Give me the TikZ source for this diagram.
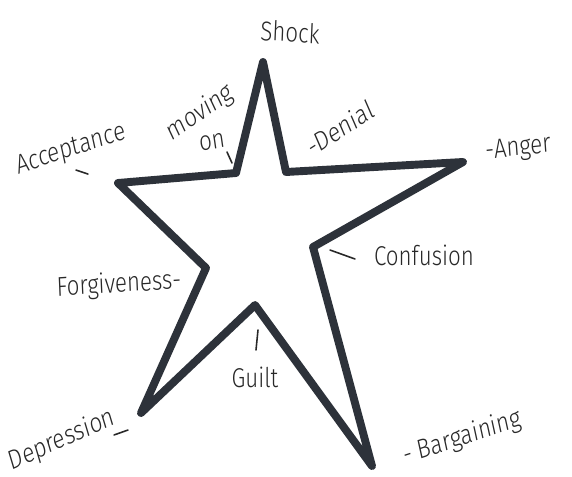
\documentclass[tikz,border=0pt]{standalone}
\usepackage{fontspec}
\setmainfont{Fira Sans}[UprightFont=* Light]
\usepackage{tikz}
\usetikzlibrary{positioning}
\definecolor{markerink}{RGB}{45,50,58}
\definecolor{penink}{RGB}{40,40,40}

\begin{document}
\begin{tikzpicture}[x=0.02cm,y=-0.02cm,
      starline/.style={draw=markerink,line width=4.5pt,line join=round,line cap=round},
      tick/.style={draw=penink,line width=0.9pt,line cap=round},
      stage/.style={text=penink,font=\fontsize{15.5}{18}\selectfont,xscale=0.82,inner sep=1pt}]
    \useasboundingbox (0,0) rectangle (572,477);
    % star corners
    \coordinate (shockpt) at (263,62);
    \coordinate (denialpt) at (286,172);
    \coordinate (angerpt) at (463,162);
    \coordinate (confpt) at (313,247);
    \coordinate (bargpt) at (372,466);
    \coordinate (guiltpt) at (255,305);
    \coordinate (deprpt) at (141,413);
    \coordinate (forgpt) at (206,268);
    \coordinate (accpt) at (118,183);
    \coordinate (movept) at (236,173);
    \draw[starline] (shockpt) -- (denialpt) -- (angerpt) -- (confpt) -- (bargpt)
      -- (guiltpt) -- (deprpt) -- (forgpt) -- (accpt) -- (movept) -- cycle;
    % labels
    \node[stage,rotate=-3] (shock) at (290,32) {Shock};
    \node[stage,rotate=28] (denial) at (340,128) {-Denial};
    \node[stage,rotate=5] (anger) at (518,149) {-Anger};
    \node[stage] (confusion) at (424,255) {Confusion};
    \node[stage,rotate=15] (bargaining) at (462,438) {- Bargaining};
    \node[stage] (guilt) at (255,377) {Guilt};
    \node[stage,rotate=20] (depression) at (62,440) {Depression};
    \node[stage,rotate=3] (forgiveness) at (119,285) {Forgiveness-};
    \node[stage,rotate=15] (acceptance) at (71,150) {Acceptance};
    \node[stage,rotate=30] (moving) at (200,113) {moving};
    \node[stage,rotate=10] (on) at (212,142) {on};
    % ticks
    \coordinate (acctick) at (76,170);
    \coordinate (acctickend) at (88,174);
    \draw[tick] (acctick) -- (acctickend);
    \coordinate (movetick) at (227,152);
    \coordinate (movetickend) at (232,163);
    \draw[tick] (movetick) -- (movetickend);
    \coordinate (conftick) at (330,250);
    \coordinate (conftickend) at (355,259);
    \draw[tick] (conftick) -- (conftickend);
    \coordinate (guilttick) at (258,330);
    \coordinate (guilttickend) at (256,350);
    \draw[tick] (guilttick) -- (guilttickend);
    \coordinate (deprtick) at (114,435);
    \coordinate (deprtickend) at (128,430);
    \draw[tick] (deprtick) -- (deprtickend);
\end{tikzpicture}
\end{document}
